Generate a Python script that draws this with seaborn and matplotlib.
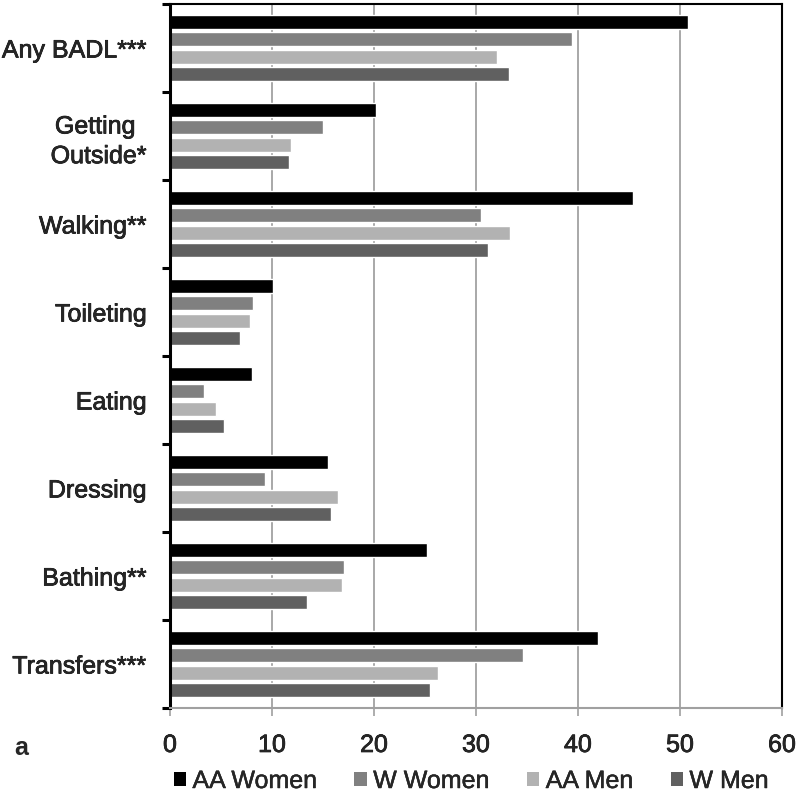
import pandas as pd
import matplotlib.pyplot as plt
import matplotlib.patheffects as pe
import seaborn as sns
from matplotlib.patches import Patch

# data
categories = ['Any BADL***', 'Getting \nOutside*', 'Walking**', 'Toileting',
              'Eating', 'Dressing', 'Bathing**', 'Transfers***']
series = ['AA Women', 'W Women', 'AA Men', 'W Men']
aa_women = [50.8, 20.2, 45.4, 10.1, 8.0, 15.5, 25.2, 42.0]
w_women = [39.4, 15.0, 30.5, 8.1, 3.3, 9.3, 17.1, 34.6]
aa_men = [32.1, 11.9, 33.3, 7.8, 4.5, 16.5, 16.9, 26.3]
w_men = [33.2, 11.7, 31.2, 6.9, 5.3, 15.8, 13.4, 25.5]
xticks = [0, 10, 20, 30, 40, 50, 60]
colors = ['#000000', '#808080', '#b2b2b2', '#606060']

rows = []
for name, vals in zip(series, [aa_women, w_women, aa_men, w_men]):
    for cat, v in zip(categories, vals):
        rows.append({'category': cat, 'series': name, 'value': v})
df = pd.DataFrame(rows)

sns.set_style('white')
plt.rcParams['font.family'] = ['Liberation Sans', 'DejaVu Sans']
fs = 18
heavy = [pe.withStroke(linewidth=0.5, foreground='black')]

fig = plt.figure(figsize=(8, 8.04), dpi=100)
ax = fig.add_axes([0.2125, 0.1182, 0.765, 0.8756])
sns.barplot(data=df, y='category', x='value', hue='series', order=categories,
            hue_order=series, palette=colors, orient='h', width=0.79, gap=0.18,
            saturation=1, legend=False, ax=ax)

ax.set_xlim(0, 60)
ax.set_ylim(len(categories) - 0.5, -0.5)
ax.set_xticks(xticks)
ax.set_xlabel('')
ax.set_ylabel('')
ax.set_axisbelow(True)
ax.xaxis.grid(True, color='#999999', lw=1.2)
ax.yaxis.grid(False)

for side in ['left', 'top', 'right']:
    ax.spines[side].set_color('black')
ax.spines['left'].set_linewidth(2.2)
ax.spines['top'].set_linewidth(1.5)
ax.spines['right'].set_linewidth(1.5)
ax.spines['bottom'].set_color('#a0a0a0')
ax.spines['bottom'].set_linewidth(1.5)

ax.set_yticks([i - 0.5 for i in range(len(categories) + 1)], minor=True)
ax.tick_params(axis='y', which='minor', left=True, length=6, width=2.2,
               color='black', direction='out')
ax.tick_params(axis='y', which='major', left=True, length=0, pad=17,
               labelsize=fs)
ax.tick_params(axis='x', which='major', bottom=True, length=6, width=1.2,
               color='#a0a0a0', direction='out', pad=12, labelsize=fs)
for lab in ax.get_yticklabels():
    lab.set_multialignment('center')
    lab.set_linespacing(1.3)
    lab.set_path_effects(heavy)
for lab in ax.get_xticklabels():
    lab.set_path_effects(heavy)

fig.text(0.018, 1 - 755 / 804, 'a', fontsize=fs, fontweight='bold', va='baseline')

handles = [Patch(facecolor=c, edgecolor='none') for c in colors]
leg = fig.legend(handles, series, loc='center', bbox_to_anchor=(0.589, 1 - 782 / 804),
                 ncol=4, frameon=False, fontsize=fs, handlelength=0.5, handleheight=0.5,
                 handletextpad=0.25, columnspacing=1.5, borderpad=0)
for t in leg.get_texts():
    t.set_path_effects([pe.withStroke(linewidth=0.3, foreground='black')])

fig.savefig('out.png', dpi=100)
plt.close(fig)
